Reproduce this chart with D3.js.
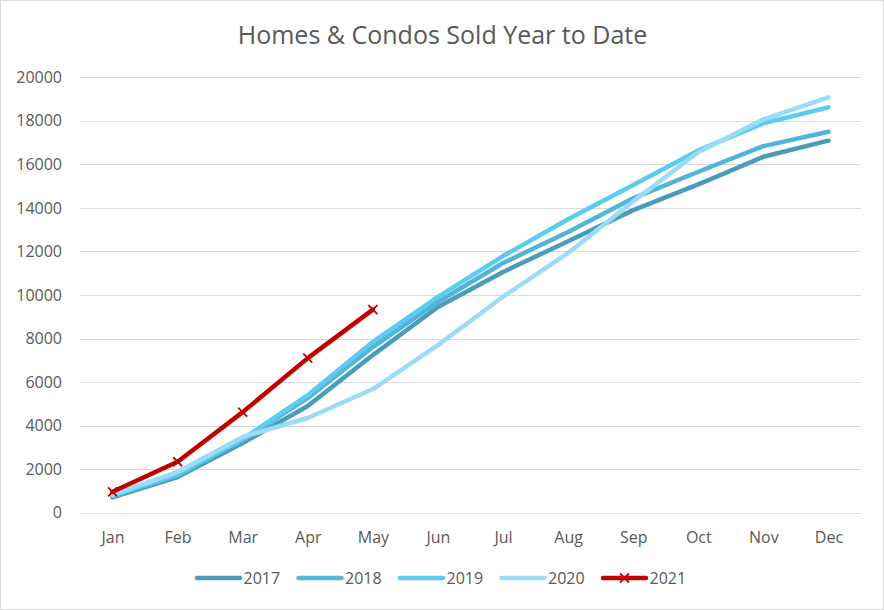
<!DOCTYPE html>
<html>
<head>
<meta charset="utf-8">
<script src="https://cdn.jsdelivr.net/npm/d3@7"></script>
<style>
  html, body { margin: 0; padding: 0; background: #fff; }
  svg { display: block; font-family: "Open Sans", "Liberation Sans", sans-serif; }
</style>
</head>
<body>
<svg id="chart" width="884" height="610"></svg>
<script>
const title = "Homes & Condos Sold Year to Date";
const months = ["Jan","Feb","Mar","Apr","May","Jun","Jul","Aug","Sep","Oct","Nov","Dec"];
const yTicks = [0,2000,4000,6000,8000,10000,12000,14000,16000,18000,20000];
const seriesNames = ["2017","2018","2019","2020","2021"];
const colors = ["#4a9cba","#52b4d7","#5bcbf2","#9bdcf6","#c00000"];
const v2017 = [700,1640,3200,4900,7240,9450,11060,12470,13900,15080,16350,17090];
const v2018 = [760,1720,3330,5270,7610,9680,11470,12890,14440,15660,16840,17500];
const v2019 = [780,1760,3380,5400,7850,9910,11790,13480,15050,16640,17890,18620];
const v2020 = [820,1870,3480,4350,5680,7700,9920,11930,14300,16560,18070,19080];
const v2021 = [960,2340,4620,7100,9330];
const allValues = [v2017,v2018,v2019,v2020,v2021];

const svg = d3.select("#chart");
const W = 884, H = 610;
const plot = {left: 80, right: 861, top: 77.3, bottom: 512.7};

// chart border
svg.append("rect").attr("x",0.5).attr("y",0.5).attr("width",W-1).attr("height",H-1)
  .attr("fill","#fff").attr("stroke","#d9d9d9").attr("stroke-width",1);

// title
svg.append("text").attr("x", 442.5).attr("y", 44).attr("text-anchor","middle")
  .attr("font-size", 25).attr("fill","#595959").text(title);

const x = d3.scalePoint().domain(months).range([plot.left, plot.right]).padding(0.5);
const y = d3.scaleLinear().domain([0,20000]).range([plot.bottom, plot.top]);

// gridlines
svg.append("g").selectAll("line").data(yTicks).join("line")
  .attr("x1", plot.left).attr("x2", plot.right)
  .attr("y1", d => Math.round(y(d))+0.5).attr("y2", d => Math.round(y(d))+0.5)
  .attr("stroke","#d9d9d9").attr("stroke-width",1.2);

// y axis labels
const yAxis = d3.axisLeft(y).tickValues(yTicks).tickSize(0).tickPadding(0).tickFormat(d3.format("d"));
const yg = svg.append("g").attr("transform", `translate(${62},0)`).call(yAxis);
yg.select(".domain").remove();
yg.selectAll("text").attr("font-size",16).attr("fill","#595959").attr("font-family","\"Open Sans\", sans-serif");

// x axis labels
const xAxis = d3.axisBottom(x).tickSize(0).tickPadding(0);
const xg = svg.append("g").attr("transform", `translate(0,${532})`).call(xAxis);
xg.select(".domain").remove();
xg.selectAll("text").attr("font-size",16).attr("fill","#595959").attr("font-family","\"Open Sans\", sans-serif");

// lines
const line = d3.line().x((d,i) => x(months[i])).y(d => y(d));
allValues.forEach((vals, k) => {
  svg.append("path").datum(vals).attr("d", line)
    .attr("fill","none").attr("stroke", colors[k]).attr("stroke-width",4.5)
    .attr("stroke-linecap","round").attr("stroke-linejoin","round");
});

// markers for 2021
const mk = 4.5;
const markers = svg.append("g");
v2021.forEach((v,i) => {
  const cx = x(months[i]), cy = y(v);
  markers.append("path")
    .attr("d", `M${cx-mk},${cy-mk}L${cx+mk},${cy+mk}M${cx-mk},${cy+mk}L${cx+mk},${cy-mk}`)
    .attr("stroke", colors[4]).attr("stroke-width",1.8).attr("fill","none");
});

// legend
const legendY = 578;
const legendX0 = 197, legendStep = 101.5;
seriesNames.forEach((name,k) => {
  const lx = legendX0 + k*legendStep;
  const g = svg.append("g");
  g.append("line").attr("x1", lx).attr("x2", lx+43).attr("y1", legendY).attr("y2", legendY)
    .attr("stroke", colors[k]).attr("stroke-width",4.5).attr("stroke-linecap","round");
  if (k === 4) {
    const cx = lx+21.5;
    g.append("path")
      .attr("d", `M${cx-mk},${legendY-mk}L${cx+mk},${legendY+mk}M${cx-mk},${legendY+mk}L${cx+mk},${legendY-mk}`)
      .attr("stroke", colors[4]).attr("stroke-width",1.8);
  }
  g.append("text").attr("x", lx+46.5).attr("y", legendY).attr("dy","0.35em")
    .attr("font-size",16).attr("fill","#595959").text(name);
});
</script>
</body>
</html>
